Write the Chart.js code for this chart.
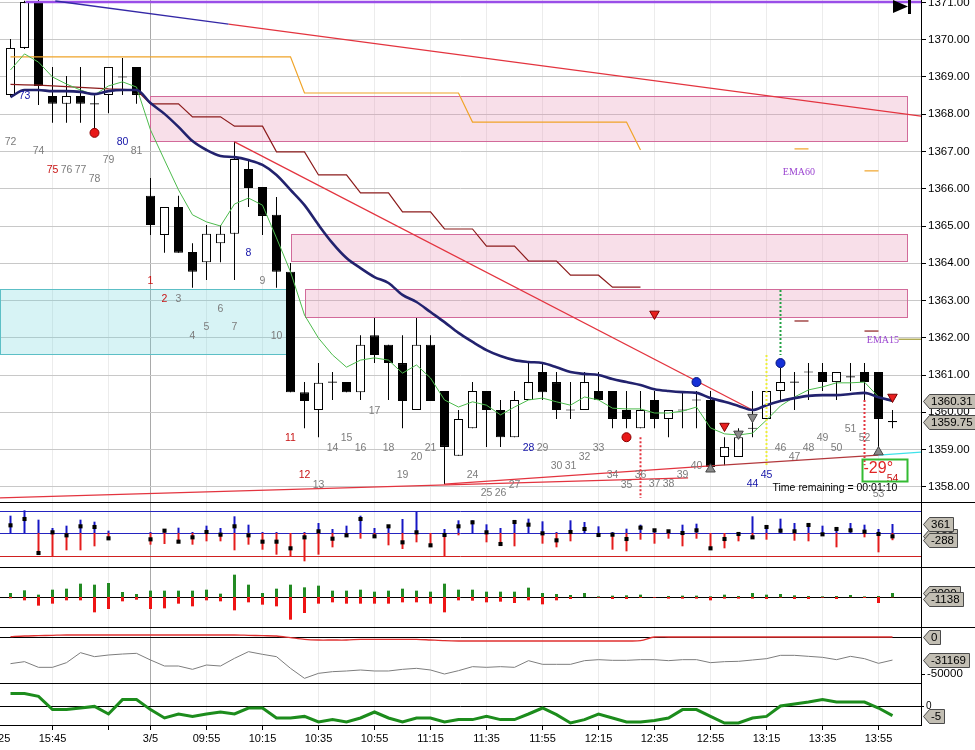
<!DOCTYPE html>
<html>
<head>
<meta charset="utf-8">
<title>Chart</title>
<script src="https://cdn.jsdelivr.net/npm/chart.js@4.4.1/dist/chart.umd.min.js"></script>
<style>
  html, body { margin:0; padding:0; background:#fff; }
  #wrap { position:relative; width:975px; height:750px; overflow:hidden; background:#fff; }
  #wrap canvas { position:absolute; left:0; }
</style>
</head>
<body>
<div id="wrap">
  <canvas id="cMain" width="975" height="503" style="top:0px"></canvas>
  <canvas id="cDelta" width="975" height="65" style="top:503px"></canvas>
  <canvas id="cVol" width="975" height="60" style="top:568px"></canvas>
  <canvas id="cCum" width="975" height="56" style="top:628px"></canvas>
  <canvas id="cOsc" width="975" height="66" style="top:684px"></canvas>
</div>
<script>
const FONT = '"Liberation Sans", Arial, Helvetica, sans-serif';
const X_MIN = -0.75, X_MAX = 65.036;

// ---- time axis ----
const timeTickBars   = [-1, 3, 7, 10, 14, 18, 22, 26, 30, 34, 38, 42, 46, 50, 54, 58, 62];
const timeTickLabels = ['15:25','15:45','','3/5','09:55','10:15','10:35','10:55','11:15','11:35','11:55','12:15','12:35','12:55','13:15','13:35','13:55'];
const dayBreakBar = 10;

// ---- price axis ----
const priceTicks = [1358,1359,1360,1361,1362,1363,1364,1365,1366,1367,1368,1369,1370,1371];

// ---- candles (5 min bars) ----
const opens = [1368.52,1369.78,1371.04,1368.49,1368.28,1368.49,1368.28,1368.52,1369.00,1369.27,
  1365.81,1364.76,1365.51,1364.30,1364.03,1364.54,1364.79,1366.53,1366.05,1365.30,
  1363.77,1360.54,1360.06,1360.81,1360.81,1360.54,1362.07,1361.81,1361.32,1360.06,
  1361.81,1360.57,1358.83,1359.57,1360.57,1360.06,1359.33,1360.33,1361.08,1360.81,
  1360.06,1360.06,1360.57,1360.57,1360.06,1359.57,1360.33,1359.82,1360.06,1360.33,
  1360.33,1358.80,1358.80,1359.57,1359.82,1360.57,1360.81,1361.08,1361.08,1360.81,
  1360.95,1361.08,1361.08,1359.75];
const highs = [1370.02,1371.05,1371.07,1369.27,1369.03,1369.27,1368.52,1369.27,1369.51,1369.27,
  1366.29,1365.51,1365.81,1364.54,1365.03,1365.03,1367.26,1366.80,1366.05,1365.78,
  1364.01,1360.81,1361.32,1361.08,1360.81,1362.07,1362.53,1361.81,1362.07,1362.53,
  1362.07,1360.57,1360.06,1360.81,1360.57,1360.33,1360.57,1361.32,1361.32,1361.08,
  1360.81,1361.08,1361.08,1360.57,1360.57,1360.57,1360.57,1360.06,1360.57,1360.57,
  1360.57,1359.33,1359.57,1360.57,1360.57,1361.19,1361.08,1361.32,1361.32,1361.08,
  1361.32,1361.32,1361.08,1360.06];
const lows = [1368.46,1369.75,1368.25,1367.77,1367.77,1367.77,1367.52,1368.03,1368.52,1368.28,
  1364.76,1364.28,1364.28,1363.34,1363.55,1364.03,1363.55,1365.51,1364.76,1363.34,
  1360.54,1359.57,1359.33,1360.33,1360.54,1360.33,1361.32,1360.33,1359.57,1360.06,
  1360.30,1358.07,1358.83,1359.57,1359.07,1359.07,1359.33,1360.33,1360.33,1359.82,
  1359.82,1360.06,1360.33,1359.57,1359.57,1359.57,1359.57,1359.33,1359.57,1359.57,
  1358.50,1358.58,1358.80,1359.33,1359.82,1360.33,1360.06,1360.33,1360.57,1360.33,
  1360.57,1360.33,1358.99,1359.57];
const closes = [1369.78,1371.01,1368.76,1368.28,1368.49,1368.28,1368.28,1369.27,1369.00,1368.52,
  1365.03,1365.51,1364.28,1363.77,1364.79,1364.79,1366.80,1366.02,1365.27,1363.77,
  1360.54,1360.30,1360.79,1360.81,1360.54,1361.81,1361.54,1361.32,1360.30,1361.81,
  1360.30,1359.07,1359.82,1360.57,1360.06,1359.33,1360.33,1360.81,1360.54,1360.06,
  1360.06,1360.81,1360.33,1359.82,1359.82,1360.06,1359.82,1360.06,1360.06,1360.33,
  1358.53,1359.07,1359.33,1359.57,1360.57,1360.81,1360.81,1361.08,1360.81,1361.08,
  1360.95,1360.81,1359.82,1359.75];

// ---- overlays on price ----
const ema15 = [1369.19,1369.62,1369.40,1369.00,1368.81,1368.65,1368.52,1368.76,1368.87,1368.73,
  1367.58,1366.77,1365.97,1365.30,1365.11,1365.00,1365.59,1365.75,1365.56,1364.68,
  1363.77,1362.61,1361.99,1361.54,1361.21,1361.40,1361.46,1361.40,1361.05,1361.27,
  1360.92,1360.33,1360.14,1360.28,1360.19,1359.93,1360.14,1360.33,1360.38,1360.28,
  1360.19,1360.41,1360.33,1360.11,1360.09,1360.09,1359.98,1359.98,1360.03,1360.14,
  1359.58,1359.42,1359.39,1359.44,1359.79,1360.17,1360.41,1360.60,1360.68,1360.79,
  1360.79,1360.81,1360.41,1360.28];
const emaSlow = [1368.46,1368.65,1368.65,1368.62,1368.62,1368.60,1368.54,1368.62,1368.65,1368.65,
  1368.30,1368.01,1367.66,1367.28,1367.04,1366.88,1366.85,1366.77,1366.64,1366.37,
  1365.97,1365.56,1365.03,1364.54,1364.14,1363.87,1363.63,1363.47,1363.15,1362.96,
  1362.69,1362.42,1362.13,1361.89,1361.67,1361.51,1361.40,1361.35,1361.32,1361.21,
  1361.08,1361.03,1361.00,1360.89,1360.81,1360.73,1360.62,1360.57,1360.54,1360.52,
  1360.38,1360.28,1360.17,1360.06,1360.19,1360.30,1360.38,1360.44,1360.46,1360.46,
  1360.49,1360.52,1360.40,1360.31];
const stepOrange = [1369.54,1369.54,1369.54,1369.54,1369.54,1369.54,1369.54,1369.54,1369.54,1369.54,
  1369.54,1369.54,1369.54,1369.54,1369.54,1369.54,1369.54,1369.54,1369.54,1369.54,
  1369.54,1368.57,1368.57,1368.57,1368.57,1368.57,1368.57,1368.57,1368.57,1368.57,
  1368.57,1368.57,1368.57,1367.79,1367.79,1367.79,1367.79,1367.79,1367.79,1367.79,
  1367.79,1367.79,1367.79,1367.79,1367.79,1367.04,null,null,null,null,
  null,null,null,null,null,null,null,null,null,null,
  null,null,null,null];
const stepMaroon = [1368.80,1368.79,1368.78,1368.76,1368.74,1368.72,1368.70,1368.68,1368.67,1368.65,
  1368.28,1368.28,1368.28,1367.93,1367.93,1367.93,1367.68,1367.68,1367.68,1366.99,
  1366.99,1366.99,1366.37,1366.37,1366.37,1365.89,1365.89,1365.89,1365.38,1365.38,
  1365.38,1364.92,1364.92,1364.92,1364.46,1364.46,1364.46,1364.06,1364.06,1364.06,
  1363.68,1363.68,1363.68,1363.36,1363.36,1363.36,null,null,null,null,
  null,null,null,null,null,null,null,null,null,null,
  null,null,null,null];

// zones
const zoneStart = [10, 20.07, 21.07, -0.75];
const zoneEnd   = [64.07, 64.07, 64.07, 20.07];
const zoneHigh  = [1368.49, 1364.79, 1363.31, 1363.31];
const zoneLow   = [1367.28, 1364.06, 1362.56, 1361.56];
const zoneKind  = ['supply','supply','supply','demand'];

// trend lines
const trendFromBar   = [3.2, 15.57, 1.07, 16, -0.75, 31, 50, 62, 63.43];
const trendFromPrice = [1371.04, 1370.42, 1371.01, 1367.26, 1357.70, 1358.07, 1358.56, 1358.85, 1361.96];
const trendToBar     = [15.57, 65.04, 65.04, 53, 48.4, 50, 62, 65.04, 65.04];
const trendToPrice   = [1370.42, 1367.95, 1371.01, 1360.06, 1358.24, 1358.56, 1358.85, 1358.93, 1361.96];
const trendKind      = ['navy','red','purple','red','red','red','maroon','cyan','olive'];

// short level dashes
const dashBar   = [56.5, 61.5, 56.5, 61.5];
const dashPrice = [1367.07, 1366.48, 1362.45, 1362.18];
const dashKind  = ['orange','orange','maroon','maroon'];

// dotted verticals
const dotBar    = [45, 61, 54, 55];
const dotTop    = [1359.33, 1360.33, 1361.54, 1363.28];
const dotBottom = [1357.70, 1358.58, 1358.58, 1361.54];
const dotKind   = ['red','red','yellow','green'];

// markers
const redDotBar = [6, 44],            redDotPrice = [1367.50, 1359.33];
const blueDotBar = [49, 55],          blueDotPrice = [1360.81, 1361.32];
const redTriBar = [46, 51, 63],       redTriPrice = [1362.64, 1359.63, 1360.41];
const grayUpBar = [50, 62],           grayUpPrice = [1358.47, 1358.93];
const grayDownBar = [52, 53],         grayDownPrice = [1359.42, 1359.87];

// bar numbers
const numText  = ['72','73','74','75','76','77','78','79','80','81','1','2','3','4','5','6','7','8','9','10','11','12','13','14','15','16','17','18','19','20','21','24','25','26','27','28','29','30','31','32','33','34','35','36','37','38','39','40','44','45','46','47','48','49','50','51','52','53','54'];
const numBar   = [0,1,2,3,4,5,6,7,8,9,10,11,12,13,14,15,16,17,18,19,20,21,22,23,24,25,26,27,28,29,30,33,34,35,36,37,38,39,40,41,42,43,44,45,46,47,48,49,53,54,55,56,57,58,59,60,61,62,63];
const numPrice = [1367.26,1368.49,1367.01,1366.50,1366.50,1366.50,1366.26,1366.77,1367.26,1367.01,
  1363.52,1363.04,1363.04,1362.05,1362.29,1362.77,1362.29,1364.28,1363.52,1362.05,
  1359.31,1358.32,1358.05,1359.04,1359.31,1359.04,1360.03,1359.04,1358.32,1358.80,1359.04,
  1358.32,1357.83,1357.83,1358.05,1359.04,1359.04,1358.56,1358.56,1358.80,1359.04,1358.32,1358.05,1358.32,
  1358.07,1358.07,1358.32,1358.56,1358.07,1358.32,1359.04,1358.80,1359.04,1359.31,1359.04,1359.55,1359.31,1357.80,1358.21];
const numKind  = ['g','b','g','r','g','g','g','g','b','g','r','r','g','g','g','g','g','b','g','g','r','r','g','g','g','g','g','g','g','g','g','g','g','g','g','b','g','g','g','g','g','g','g','g','g','g','g','g','b','b','g','g','g','g','g','g','g','g','r'];

const emaLabelText = ['EMA60','EMA15'];
const emaLabelBar = [56.32, 62.32];
const emaLabelPrice = [1366.45, 1361.94];

const angleText = '-29°', angleBar = 60.93, anglePrice = 1358.50;
const angleBoxBar = [60.79, 64.07], angleBoxPrice = [1358.75, 1358.16];
const timerText = 'Time remaining = 00:01:10', timerBar = 54.43, timerPrice = 1357.97;

// ---- sub panel 1: buy/sell delta ----
const deltaUpper = 900, deltaLower = -900;
const p2Buy = [693,907,533,200,293,533,453,93,null,null,
  40,160,213,40,293,200,667,333,40,40,
  0,40,400,160,293,693,200,293,560,840,
  0,160,507,507,347,200,507,573,467,40,
  507,440,267,40,173,333,107,67,333,373,
  0,0,40,667,293,573,400,373,293,160,
  400,333,160,361];
const p2Sell = [0,0,-800,-933,-693,-693,-533,-160,null,null,
  -467,-440,-400,-467,-333,-333,-693,-467,-667,-867,
  -960,-1133,-867,-573,-133,-227,-200,-493,-640,-373,
  -533,-960,-93,0,-373,-467,-533,0,-427,-573,
  -333,0,-133,-667,-733,-267,-427,-227,-533,-227,
  -667,-613,-333,-173,-267,0,-307,-333,-53,-573,
  0,-173,-773,-288];
const p2Net = [307,560,-800,27,-93,267,240,-213,null,null,
  -253,93,-347,-173,40,-67,267,-93,-347,-347,
  -613,-173,67,-227,-93,560,-133,267,-373,27,
  -493,-80,267,427,27,-440,440,333,-13,-293,
  40,160,-80,-67,-240,213,107,67,0,107,
  -613,-240,-40,-173,240,93,67,320,-53,160,
  107,53,-40,-133];

// ---- sub panel 2: up/down volume ----
const p3Up = [2000,3333,1167,3667,4167,6667,6167,7000,2500,1500,
  3167,3167,3167,3167,3667,1667,11167,6167,2000,4167,
  6167,4833,5667,3167,3167,3667,2667,3167,4167,3167,
  2667,6667,3667,3667,2667,2667,2667,4667,2000,1500,
  1000,2000,333,667,833,1167,0,500,667,667,
  333,1167,500,2000,1167,1500,833,500,333,500,
  1000,333,500,2000];
const p3Down = [-667,-1667,-4333,-3333,-1667,-1667,-7667,-6000,-2167,-1333,
  -6000,-5667,-3333,-4667,-1667,-2167,-6667,-2667,-3833,-4667,
  -11333,-8000,-3333,-2667,-3333,-3333,-3333,-3333,-2667,-2667,
  -3333,-7667,-1667,-1833,-2667,-2333,-3000,-1667,-3667,-1667,
  -1000,0,-333,-1000,-1000,-500,-333,-833,-833,-833,
  -1667,-833,-833,-833,-1000,-333,-1000,-1000,-333,-1000,
  -167,-500,-3000,-200];
const p3Net = -1138;

// ---- sub panel 3: cumulative ----
const cumTicks = [-50000];
const p5Gray = [-36000,-33330,-40980,-40980,-34680,-21170,-26570,-24320,-23000,-22070,
  -31070,-39180,-39180,-43680,-37830,-39180,-28820,-19820,-23420,-26570,
  -42330,-55840,-49080,-46830,-45930,-44580,-45930,-45930,-43680,-42330,
  -44580,-49990,-45480,-40080,-40980,-40080,-40980,-31970,-36920,-36920,
  -36920,-31970,-30620,-31520,-31520,-30620,-30620,-31970,-30620,-30620,
  -34680,-33330,-32870,-31070,-29270,-24770,-24770,-26120,-27470,-30620,
  -26120,-29270,-35570,-31169];
const p5Red = [450,1350,1800,2250,2700,2700,2700,2700,2700,2700,
  2700,2700,2700,2700,2700,2700,2700,2250,1800,1350,
  -900,-3150,-4050,-4050,-4050,-3150,-3150,-3150,-3150,-3150,
  -4050,-4950,-5400,-5400,-5400,-5400,-5400,-5400,-5400,-5400,
  -5400,-5400,-5400,-5400,-5400,-4950,0,0,0,0,
  0,0,0,0,0,0,0,0,0,0,
  0,0,0,0];

// ---- sub panel 4: oscillator ----
const oscTicks = [0];
const p6 = [6.2,6.2,4.8,-1.8,-1.8,-1.0,-0.2,-4.0,3.2,3.2,
  -1.8,-6.0,-4.0,-5.2,-4.0,-3.0,-4.0,-1.0,-1.0,-6.0,
  -6.0,-5.2,-8.0,-6.8,-8.0,-6.0,-3.0,-6.0,-8.0,-6.0,
  -6.0,-8.0,-6.8,-6.8,-5.2,-6.8,-6.8,-4.0,-1.0,-4.3,
  -8.5,-6.8,-4.0,-6.0,-8.0,-8.0,-7.2,-6.0,-1.8,-1.8,
  -5.2,-8.5,-8.5,-6.0,-5.2,0,1.0,2.0,3.2,2.0,
  2.0,2.0,-1.0,-4.8];

// ================= rendering =================
const barIdx = opens.map((_, i) => i);
const pts = arr => barIdx.map(i => ({x: i, y: arr[i]}));
const pairPts = (bars, prices) => bars.map((b, k) => ({x: b, y: prices[k]}));

const STYLE = {
  navy:'#3428a6', red:'#e3343f', purple:'#9a4ee8', maroon:'#b2383c', cyan:'#3fe2ea', olive:'#a6a040',
  orange:'#f0a428', yellow:'#eeee3a', green:'#22a244', dmaroon:'#8c1c1c'
};
const numColors = {g:'#7c7c7c', r:'#c81414', b:'#1414a8'};

function xScale(showLabels) {
  return {
    type:'linear', min:X_MIN, max:X_MAX, offset:false,
    afterBuildTicks: s => { s.ticks = timeTickBars.map(v => ({value: v})); },
    afterFit: s => { s.height = showLabels ? 25 : 0; s.paddingLeft = 0; s.paddingRight = 0; },
    grid: { display:true, offset:false, drawTicks: showLabels, tickLength:5, tickColor:'#000', lineWidth:1,
            color: c => (c.tick && c.tick.value === dayBreakBar) ? '#a9a9a9' : '#ececec' },
    border: { display: showLabels, color:'#000', width:1 },
    ticks: { display: showLabels, autoSkip:false, maxRotation:0, minRotation:0, padding:2, color:'#000',
             font:{family:FONT, size:11},
             callback: v => { const k = timeTickBars.indexOf(v); return k >= 0 ? timeTickLabels[k] : ''; } }
  };
}
function yRight(min, max, extra) {
  return Object.assign({
    type:'linear', position:'right', min:min, max:max, beginAtZero:false,
    afterFit: s => { s.width = 54; s.paddingTop = 0; s.paddingBottom = 0; },
    border: { display:true, color:'#000', width:1 },
    grid: { display:false },
    ticks: { display:false }
  }, extra || {});
}

function drawTag(ctx, x0, yc, text) {
  ctx.font = '11.5px ' + FONT;
  const w = ctx.measureText(text).width;
  const h = 14, tip = 7;
  const yy = Math.round(yc);
  const x1 = Math.round(x0 + tip + w + 5);
  ctx.beginPath();
  ctx.moveTo(x0 + 1.5, yy + 0.5);
  ctx.lineTo(x0 + tip + 0.5, yy - h / 2 + 0.5);
  ctx.lineTo(x1 + 0.5, yy - h / 2 + 0.5);
  ctx.lineTo(x1 + 0.5, yy + h / 2 + 0.5);
  ctx.lineTo(x0 + tip + 0.5, yy + h / 2 + 0.5);
  ctx.closePath();
  ctx.fillStyle = '#c2beb3'; ctx.fill();
  ctx.strokeStyle = '#4a4a4a'; ctx.lineWidth = 1; ctx.stroke();
  ctx.fillStyle = '#000'; ctx.textAlign = 'left'; ctx.textBaseline = 'middle';
  ctx.fillText(text, x0 + tip + 2, yy + 1);
}

function panelDecor(levels, tags, sepFull, sepAtBottom) {
  return {
    id: 'panelDecor',
    beforeDatasetsDraw(chart) {
      const {ctx, chartArea, scales:{y}} = chart;
      ctx.save();
      levels.forEach(l => {
        const py = Math.round(y.getPixelForValue(l.v)) + 0.5;
        ctx.strokeStyle = l.c; ctx.lineWidth = 1;
        ctx.beginPath(); ctx.moveTo(chartArea.left, py); ctx.lineTo(chartArea.right, py); ctx.stroke();
      });
      ctx.restore();
    },
    afterDatasetsDraw(chart) {
      const {ctx, chartArea, scales:{y}} = chart;
      ctx.save();
      tags.forEach(t => drawTag(ctx, chartArea.right + 1, y.getPixelForValue(t.v), t.t));
      if (sepAtBottom) {
        ctx.strokeStyle = '#000'; ctx.lineWidth = 1;
        ctx.beginPath(); ctx.moveTo(0, chartArea.bottom - 0.5);
        ctx.lineTo(sepFull ? chart.width : chartArea.right, chartArea.bottom - 0.5); ctx.stroke();
      }
      ctx.restore();
    }
  };
}

const mainDecor = {
  id: 'mainDecor',
  beforeDatasetsDraw(chart) {
    const {ctx, scales:{x, y}} = chart;
    ctx.save();
    for (let k = 0; k < zoneStart.length; k++) {
      const x0 = Math.round(x.getPixelForValue(zoneStart[k])) + 0.5;
      const x1 = Math.round(x.getPixelForValue(zoneEnd[k])) + 0.5;
      const y0 = Math.round(y.getPixelForValue(zoneHigh[k])) + 0.5;
      const y1 = Math.round(y.getPixelForValue(zoneLow[k])) + 0.5;
      const demand = zoneKind[k] === 'demand';
      ctx.fillStyle = demand ? 'rgba(110,212,220,0.28)' : 'rgba(230,140,175,0.28)';
      ctx.fillRect(x0, y0, x1 - x0, y1 - y0);
      ctx.strokeStyle = demand ? '#5cbfc6' : '#d26a9a';
      ctx.lineWidth = 1;
      ctx.strokeRect(x0, y0, x1 - x0, y1 - y0);
    }
    ctx.restore();
  },
  afterDatasetsDraw(chart) {
    const {ctx, chartArea, scales:{x, y}} = chart;
    ctx.save();
    ctx.textAlign = 'center'; ctx.textBaseline = 'middle';
    ctx.font = '10.5px ' + FONT;
    for (let k = 0; k < numText.length; k++) {
      ctx.fillStyle = numColors[numKind[k]];
      ctx.fillText(numText[k], x.getPixelForValue(numBar[k]), y.getPixelForValue(numPrice[k]));
    }
    ctx.font = '10px "Liberation Serif", "DejaVu Serif", serif';
    ctx.fillStyle = '#9b45d0';
    for (let k = 0; k < emaLabelText.length; k++) {
      ctx.fillText(emaLabelText[k], x.getPixelForValue(emaLabelBar[k]), y.getPixelForValue(emaLabelPrice[k]));
    }
    // angle box
    const bx0 = Math.round(x.getPixelForValue(angleBoxBar[0])) + 0.5;
    const bx1 = Math.round(x.getPixelForValue(angleBoxBar[1])) + 0.5;
    const by0 = Math.round(y.getPixelForValue(angleBoxPrice[0])) + 0.5;
    const by1 = Math.round(y.getPixelForValue(angleBoxPrice[1])) + 0.5;
    ctx.strokeStyle = '#33bb33'; ctx.lineWidth = 2;
    ctx.strokeRect(bx0, by0, bx1 - bx0, by1 - by0);
    ctx.fillStyle = '#e02424'; ctx.textAlign = 'left';
    ctx.font = '16px ' + FONT;
    ctx.fillText(angleText, x.getPixelForValue(angleBar), y.getPixelForValue(anglePrice));
    // timer
    ctx.fillStyle = '#000'; ctx.font = '10.5px ' + FONT;
    ctx.fillText(timerText, x.getPixelForValue(timerBar), y.getPixelForValue(timerPrice));
    // end-of-chart arrow
    const r = chartArea.right;
    ctx.fillStyle = '#000';
    ctx.beginPath(); ctx.moveTo(r - 28, 0); ctx.lineTo(r - 28, 13); ctx.lineTo(r - 13, 6.5); ctx.closePath(); ctx.fill();
    ctx.fillRect(r - 13, 0, 3, 14);
    // axis tags
    drawTag(ctx, r + 1, y.getPixelForValue(emaSlow[emaSlow.length - 1]), emaSlow[emaSlow.length - 1].toFixed(2));
    drawTag(ctx, r + 1, y.getPixelForValue(closes[closes.length - 1]), closes[closes.length - 1].toFixed(2));
    // separator
    ctx.strokeStyle = '#000'; ctx.lineWidth = 1;
    ctx.beginPath(); ctx.moveTo(0, chartArea.bottom - 0.5); ctx.lineTo(chart.width, chartArea.bottom - 0.5); ctx.stroke();
    ctx.restore();
  }
};

function makeChart(id, datasets, yScale, showX, plugins) {
  return new Chart(document.getElementById(id), {
    type: 'bar',
    data: { datasets: datasets },
    options: {
      responsive:false, maintainAspectRatio:false, animation:false, events:[], devicePixelRatio:1,
      layout: { padding:0, autoPadding:false },
      plugins: { legend:{display:false}, tooltip:{enabled:false}, title:{display:false} },
      scales: { x: xScale(showX), y: yScale }
    },
    plugins: plugins
  });
}

// ---------- main price chart ----------
const mainSets = [];
mainSets.push({ type:'bar', data: barIdx.map(i => ({x:i, y:[lows[i], highs[i]]})),
  backgroundColor:'#000', borderWidth:0, maxBarThickness:1, grouped:false, inflateAmount:0, order:30 });
mainSets.push({ type:'bar', data: barIdx.map(i => {
    let a = Math.min(opens[i], closes[i]), b = Math.max(opens[i], closes[i]);
    if (b - a < 0.03) { const m = (a + b) / 2; a = m - 0.015; b = m + 0.015; }
    return {x:i, y:[a, b]};
  }),
  backgroundColor: barIdx.map(i => closes[i] > opens[i] ? '#ffffff' : '#000000'),
  borderColor:'#000', borderWidth:1, borderSkipped:false, maxBarThickness:9, grouped:false, inflateAmount:0, order:29 });
mainSets.push({ type:'line', data: pts(stepOrange), borderColor:STYLE.orange, borderWidth:1.2, pointRadius:0, tension:0, spanGaps:false, order:12 });
mainSets.push({ type:'line', data: pts(stepMaroon), borderColor:STYLE.dmaroon, borderWidth:1.2, pointRadius:0, tension:0, spanGaps:false, order:12 });
for (let k = 0; k < dashBar.length; k++) {
  mainSets.push({ type:'line', data:[{x:dashBar[k] - 0.5, y:dashPrice[k]}, {x:dashBar[k] + 0.5, y:dashPrice[k]}],
    borderColor: dashKind[k] === 'orange' ? STYLE.orange : STYLE.dmaroon, borderWidth:1.2, pointRadius:0, order:12 });
}
for (let k = 0; k < trendKind.length; k++) {
  mainSets.push({ type:'line', data:[{x:trendFromBar[k], y:trendFromPrice[k]}, {x:trendToBar[k], y:trendToPrice[k]}],
    borderColor: STYLE[trendKind[k]], borderWidth: trendKind[k] === 'purple' ? 2.5 : 1.3, pointRadius:0, order:11 });
}
mainSets.push({ type:'line', data: pts(ema15), borderColor:'#4cbb4c', borderWidth:1, pointRadius:0, tension:0, order:10 });
mainSets.push({ type:'line', data: pts(emaSlow), borderColor:'#22226e', borderWidth:2.6, pointRadius:0, cubicInterpolationMode:'monotone', order:9 });
for (let k = 0; k < dotBar.length; k++) {
  mainSets.push({ type:'line', data:[{x:dotBar[k], y:dotTop[k]}, {x:dotBar[k], y:dotBottom[k]}],
    borderColor: STYLE[dotKind[k]], borderWidth:2, borderDash:[2, 2], pointRadius:0, order:5 });
}
mainSets.push({ type:'line', showLine:false, data: pairPts(redDotBar, redDotPrice), pointStyle:'circle', pointRadius:4.5,
  pointBackgroundColor:'#e81818', pointBorderColor:'#8a0000', pointBorderWidth:1, order:1 });
mainSets.push({ type:'line', showLine:false, data: pairPts(blueDotBar, blueDotPrice), pointStyle:'circle', pointRadius:4.5,
  pointBackgroundColor:'#1530d8', pointBorderColor:'#00107a', pointBorderWidth:1, order:1 });
mainSets.push({ type:'line', showLine:false, data: pairPts(redTriBar, redTriPrice), pointStyle:'triangle', pointRotation:180, pointRadius:5.5,
  pointBackgroundColor:'#e82020', pointBorderColor:'#7a0000', pointBorderWidth:1, order:1 });
mainSets.push({ type:'line', showLine:false, data: pairPts(grayUpBar, grayUpPrice), pointStyle:'triangle', pointRadius:5.5,
  pointBackgroundColor:'#8a8a8a', pointBorderColor:'#444', pointBorderWidth:1, order:1 });
mainSets.push({ type:'line', showLine:false, data: pairPts(grayDownBar, grayDownPrice), pointStyle:'triangle', pointRotation:180, pointRadius:5.5,
  pointBackgroundColor:'#8a8a8a', pointBorderColor:'#444', pointBorderWidth:1, order:1 });

makeChart('cMain', mainSets, yRight(1357.564, 1371.067, {
  afterBuildTicks: s => { s.ticks = priceTicks.map(v => ({value: v})); },
  grid: { display:true, color:'#c8c8c8', drawTicks:true, tickLength:5, tickColor:'#000', lineWidth:1 },
  ticks: { display:true, padding:2, color:'#000', font:{family:FONT, size:11.5}, callback: v => Number(v).toFixed(2) }
}), false, [mainDecor]);

// ---------- delta panel ----------
makeChart('cDelta', [
  { type:'bar', data: barIdx.map(i => ({x:i, y: p2Buy[i] == null ? null : [0, p2Buy[i]]})), backgroundColor:'#1616c4',
    borderWidth:0, maxBarThickness:2, grouped:false, inflateAmount:0, order:5 },
  { type:'bar', data: barIdx.map(i => ({x:i, y: p2Sell[i] == null ? null : [p2Sell[i], 0]})), backgroundColor:'#e41c1c',
    borderWidth:0, maxBarThickness:2, grouped:false, inflateAmount:0, order:5 },
  { type:'line', showLine:false, data: pts(p2Net), pointStyle:'rect', pointRadius:2.9, pointBackgroundColor:'#000',
    pointBorderWidth:0, order:1 }
], yRight(-1400, 1200), false, [panelDecor(
  [{v:deltaUpper, c:'#2424c0'}, {v:0, c:'#2424c0'}, {v:deltaLower, c:'#d02020'}],
  [{v:p2Net[63], t:String(p2Net[63])}, {v:p2Buy[63], t:String(p2Buy[63])}, {v:p2Sell[63], t:String(p2Sell[63])}],
  true, true)]);

// ---------- volume panel ----------
makeChart('cVol', [
  { type:'bar', data: barIdx.map(i => ({x:i, y:[0, p3Up[i]]})), backgroundColor:'#238a23',
    borderWidth:0, maxBarThickness:3, grouped:false, inflateAmount:0, order:5 },
  { type:'bar', data: barIdx.map(i => ({x:i, y:[p3Down[i], 0]})), backgroundColor:'#ee1414',
    borderWidth:0, maxBarThickness:3, grouped:false, inflateAmount:0, order:5 }
], yRight(-15500, 14500), false, [panelDecor(
  [{v:0, c:'#000'}],
  [{v:p3Up[63], t:String(p3Up[63])}, {v:p3Net, t:String(p3Net)}],
  true, true)]);

// ---------- cumulative panel ----------
makeChart('cCum', [
  { type:'line', data: pts(p5Red), borderColor:'#e03030', borderWidth:1.3, pointRadius:0, tension:0.3, order:2 },
  { type:'line', data: pts(p5Gray), borderColor:'#7d7d7d', borderWidth:1, pointRadius:0, tension:0, order:1 }
], yRight(-63496, 12160, {
  afterBuildTicks: s => { s.ticks = cumTicks.map(v => ({value: v})); },
  grid: { display:true, drawOnChartArea:false, drawTicks:true, tickLength:4, tickColor:'#000' },
  ticks: { display:true, padding:2, color:'#000', font:{family:FONT, size:11.5}, callback: v => String(v) }
}), false, [panelDecor(
  [{v:0, c:'#000'}],
  [{v:p5Red[63], t:String(p5Red[63])}, {v:p5Gray[63], t:String(p5Gray[63])}],
  false, true)]);

// ---------- oscillator panel ----------
makeChart('cOsc', [
  { type:'line', data: pts(p6), borderColor:'#1c8c1c', borderWidth:3, pointRadius:0, tension:0, order:1 }
], yRight(-9.5, 11, {
  afterBuildTicks: s => { s.ticks = oscTicks.map(v => ({value: v})); },
  grid: { display:true, drawOnChartArea:false, drawTicks:true, tickLength:3, tickColor:'#000' },
  ticks: { display:true, padding:2, color:'#000', font:{family:FONT, size:10}, callback: v => String(v) }
}), true, [panelDecor(
  [{v:0, c:'#000'}],
  [{v:p6[63], t:String(Math.round(p6[63]))}],
  false, false)]);
</script>
</body>
</html>
